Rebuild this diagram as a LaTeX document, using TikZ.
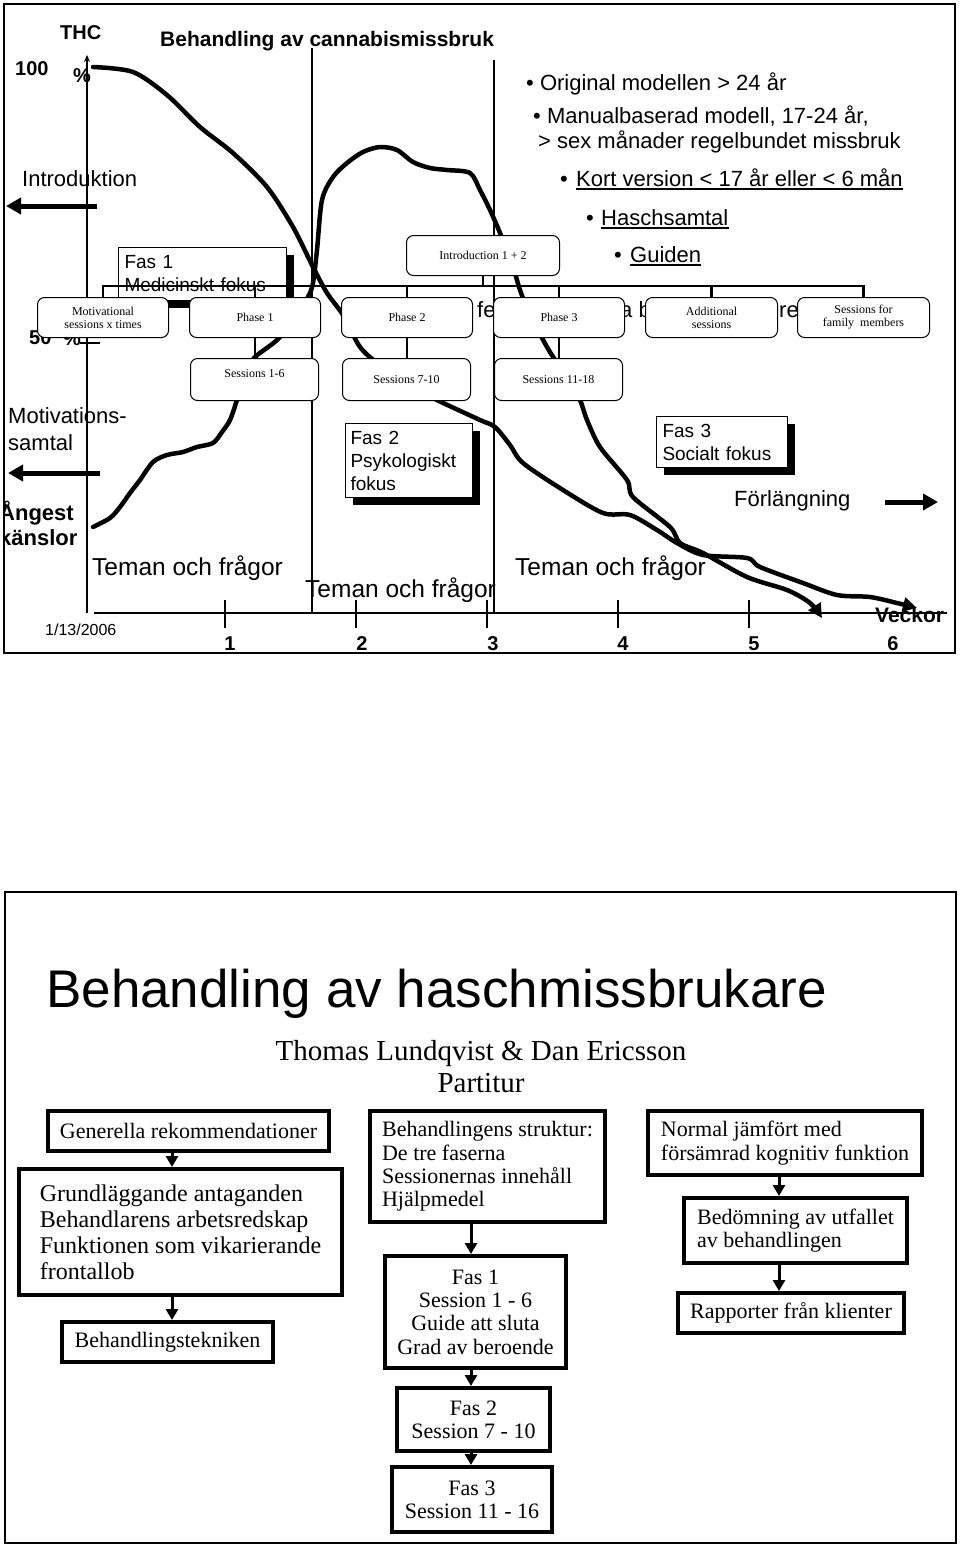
\documentclass[tikz,border=0pt]{standalone}
\usepackage{fontspec}
\setmainfont{Liberation Serif}
\newfontfamily\arial{Liberation Sans}
\usetikzlibrary{arrows.meta,shadows}
\newcommand\myfs[2]{\fontsize{#1}{#2}\selectfont}
\begin{document}
\begin{tikzpicture}[x=1pt,y=-1pt,
  panel/.style={draw, line width=2.5pt},
  thinln/.style={line width=1.2pt},
  lbl/.style={inner sep=0pt, anchor=base west, font=\arial\myfs{22}{26}},
  lblb/.style={inner sep=0pt, anchor=base west, font=\arial\bfseries\myfs{20}{24}},
  teman/.style={inner sep=0pt, anchor=base west, font=\arial\myfs{24.5}{28}},
  digit/.style={inner sep=0pt, anchor=base, font=\arial\bfseries\myfs{20}{24}},
  fasbox/.style={draw, line width=1pt, fill=white, anchor=north west, align=left,
    inner xsep=6pt, inner ysep=0pt, font=\arial\myfs{19}{23},
    drop shadow={shadow xshift=7pt, shadow yshift=-7pt, fill=black, opacity=1}},
  rbox/.style={draw, line width=1pt, rounded corners=7pt, fill=white, anchor=north west,
    minimum width=131pt, minimum height=40pt, inner sep=0pt, align=center, font=\myfs{12}{13}},
  sbox/.style={rbox, minimum width=128pt, minimum height=42pt},
  curve/.style={line width=4.5pt, line cap=round, line join=round, -{Triangle[length=14pt,width=14pt]}},
  fatarrow/.style={line width=5pt, -{Triangle[length=15pt,width=16pt]}},
  barline/.style={line width=2.5pt},
  bigbox/.style={draw, line width=4pt, fill=white, anchor=north west, align=left,
    inner sep=0pt, font=\myfs{22}{23.3}},
  flowarrow/.style={line width=3pt, -{Triangle[length=11pt,width=12pt]}}
]
\useasboundingbox (0,0) rectangle (960,1547);

% ================= upper panel =================
\draw[panel] (4,4) rectangle (955,653);

% axes and guide lines
\coordinate (axbot) at (87,613);
\coordinate (axtop) at (87,55);
\draw[thinln, -{Stealth[length=7pt,width=6pt]}] (axbot) -- (axtop);
\coordinate (xa0) at (94,613);
\coordinate (xa1) at (947,613);
\draw[thinln] (xa0) -- (xa1);
\coordinate (v1t) at (312,48); \coordinate (v1b) at (312,613);
\coordinate (v2t) at (494,60); \coordinate (v2b) at (494,613);
\draw[thinln] (v1t) -- (v1b);
\draw[thinln] (v2t) -- (v2b);
\foreach \tx [count=\i] in {225,356,487,618,749}{
  \coordinate (tk\i a) at (\tx,600);
  \coordinate (tk\i b) at (\tx,628);
  \draw[thinln] (tk\i a) -- (tk\i b);
}
\coordinate (t50a) at (80,343); \coordinate (t50b) at (100,343);
\draw[thinln] (t50a) -- (t50b);

% labels
\node[lblb] (thc) at (60,39) {THC};
\node[lblb] (hundred) at (15,75) {100};
\node[lblb] (pct1) at (73,82) {\%};
\node[lblb] (fifty) at (29,344) {50};
\node[lblb] (pct2) at (63,345) {\%};
\node[lblb, font=\arial\bfseries\myfs{21}{24}] (ttl) at (160,46) {Behandling av cannabismissbruk};
\node[lbl] (intro) at (22,186) {Introduktion};
\node[lbl] (mot1) at (8,423) {Motivations-};
\node[lbl] (mot2) at (8,450) {samtal};
\begin{scope}
  \clip (5,4) rectangle (955,653);
  \node[lbl, font=\arial\bfseries\myfs{22}{26}] (ang1) at (-1,520) {Ångest};
  \node[lbl, font=\arial\bfseries\myfs{22}{26}] (ang2) at (-1,545) {känslor};
\end{scope}
\node[teman] (tem1) at (92,575) {Teman och frågor};
\node[teman] (tem2) at (305,597) {Teman och frågor};
\node[teman] (tem3) at (515,575) {Teman och frågor};
\node[lbl] (forl) at (734,506) {Förlängning};
\node[lblb, font=\arial\bfseries\myfs{21}{24}] (veckor) at (875,622) {Veckor};
\node[lbl, font=\arial\myfs{16}{19}] (date) at (45,635) {1/13/2006};
\foreach \dx/\dl in {230/1,362/2,493/3,623/4,754/5,893/6}{
  \node[digit] (d\dl) at (\dx,650) {\dl};
}

% bullets
\node[lbl] (bl1) at (526,90) {• Original modellen > 24 år};
\node[lbl] (bl2) at (533,123) {• Manualbaserad modell, 17-24 år,};
\node[lbl] (bl3) at (538,148) {> sex månader regelbundet missbruk};
\node[lbl] (bb4) at (560,186) {•};
\node[lbl] (bl4) at (576,186) {Kort version < 17 år eller < 6 mån};
\node[lbl] (bb5) at (586,225) {•};
\node[lbl] (bl5) at (601,225) {Haschsamtal};
\node[lbl] (bb6) at (614,262) {•};
\node[lbl] (bl6) at (630,262) {Guiden};
\foreach \n in {bl4,bl5,bl6}{
  \draw[line width=1.3pt] ([yshift=-3pt]\n.base west) -- ([yshift=-3pt]\n.base east);
}

% arrows
\coordinate (ia0) at (97,206); \coordinate (ia1) at (6,206);
\draw[fatarrow] (ia0) -- (ia1);
\coordinate (ma0) at (100,473); \coordinate (ma1) at (8,473);
\draw[fatarrow] (ma0) -- (ma1);
\coordinate (fa0) at (885,502); \coordinate (fa1) at (938,502);
\draw[fatarrow] (fa0) -- (fa1);

% focus boxes with shadows
\node[fasbox, text width=156pt, minimum height=53pt] (fas1) at (118,247) {Fas 1\\Medicinskt fokus};
\node[fasbox, inner xsep=5pt, text width=117pt, minimum height=74pt] (fas2) at (345,423) {Fas 2\\Psykologiskt\\fokus};
\node[fasbox, text width=119pt, minimum height=51pt] (fas3) at (656,416) {Fas 3\\Socialt fokus};

% hidden text fragments
\node[lbl] (frag1) at (477,317) {fe};
\node[lbl] (frag2) at (620,317) {a b};
\node[lbl] (frag3) at (779,317) {re};

% curves
\draw[curve] plot[smooth] coordinates {(93,67) (133,72) (167,95) (200,127) (233,153) (267,187) (293,227) (313,267) (327,293) (343,315) (360,347) (380,365) (410,385) (437,400) (480,420) (495,427) (510,445) (523,463) (563,490) (603,513) (630,515) (657,530) (677,543) (703,555) (747,558) (760,567) (803,583) (837,595) (870,597) (897,603) (917,608)};
\draw[curve] plot[smooth] coordinates {(93,527) (110,518) (120,507) (130,493) (140,480) (153,462) (167,455) (183,452) (197,447) (213,443) (222,432) (230,420) (237,400) (245,375) (254,358) (277,340) (295,318) (308,297) (313,283) (317,250) (322,200) (333,177) (347,163) (363,152) (380,147) (397,150) (413,162) (430,168) (447,170) (470,173) (480,190) (490,210) (500,233) (513,267) (520,290) (530,315) (547,347) (555,360) (570,385) (580,400) (587,420) (600,447) (627,480) (633,497) (670,527) (680,543) (703,553) (747,577) (787,590) (810,603) (822,618)};

% org chart
\node[rbox, minimum width=153pt] (intr) at (406,235) {Introduction 1 + 2};
\node[rbox] (motb) at (37,297) {Motivational\\sessions x times};
\node[rbox] (ph1) at (189,297) {Phase 1};
\node[rbox] (ph2) at (341,297) {Phase 2};
\node[rbox] (ph3) at (493,297) {Phase 3};
\node[rbox, minimum width=132pt] (addb) at (645,297) {Additional\\sessions};
\node[rbox, minimum width=132pt] (famb) at (797,297) {Sessions for\\family~ members};
\node[sbox, text height=8pt, text depth=12pt] (s16) at (190,358) {Sessions 1-6};
\node[sbox] (s710) at (342,358) {Sessions 7-10};
\node[sbox] (s1118) at (494,358) {Sessions 11-18};

\coordinate (bar) at (0,286);
\draw[barline] (motb.north) -- (motb.north |- bar) -- (famb.north |- bar) -- (famb.north);
\foreach \b in {ph1,ph2,ph3,addb}{
  \draw[barline] (\b.north) -- (\b.north |- bar);
}
\draw[barline] (intr.south) -- (intr.south |- bar);
\draw[barline] (ph1.south) -- (s16.north -| ph1.south);
\draw[barline] (ph2.south) -- (s710.north -| ph2.south);
\draw[barline] (ph3.south) -- (s1118.north -| ph3.south);

% ================= lower panel =================
\draw[panel] (5,892) rectangle (956,1543);
\node[inner sep=0pt, anchor=base west, font=\arial\myfs{53}{58}] (bigtitle) at (46,1007) {Behandling av haschmissbrukare};
\node[inner sep=0pt, anchor=base, font=\myfs{29}{32}] (authors) at (481,1060) {Thomas Lundqvist \& Dan Ericsson};
\node[inner sep=0pt, anchor=base, font=\myfs{29}{32}] (partitur) at (481,1092) {Partitur};

\node[bigbox, align=center, minimum width=281pt, minimum height=40pt] (gen) at (46,1109) {Generella rekommendationer};
\node[bigbox, minimum width=323pt, minimum height=126pt, font=\myfs{24}{26}] (grund) at (17,1167) {Grundläggande antaganden\\Behandlarens arbetsredskap\\Funktionen som vikarierande\\frontallob};
\node[bigbox, align=center, minimum width=211pt, minimum height=40pt] (tek) at (60,1320) {Behandlingstekniken};

\node[bigbox, minimum width=235pt, minimum height=111pt] (strukt) at (368,1109) {Behandlingens struktur:\\De tre faserna\\Sessionernas innehåll\\Hjälpmedel};
\node[bigbox, align=center, minimum width=181pt, minimum height=112pt] (bf1) at (383,1254) {Fas 1\\Session 1 - 6\\Guide att sluta\\Grad av beroende};
\node[bigbox, align=center, minimum width=153pt, minimum height=63pt] (bf2) at (395,1386) {Fas 2\\Session 7 - 10};
\node[bigbox, align=center, minimum width=160pt, minimum height=65pt] (bf3) at (390,1465) {Fas 3\\Session 11 - 16};

\node[bigbox, minimum width=274pt, minimum height=64pt] (norm) at (646,1109) {Normal jämfört med\\försämrad kognitiv funktion};
\node[bigbox, minimum width=223pt, minimum height=65pt] (bedom) at (682,1196) {Bedömning av utfallet\\av behandlingen};
\node[bigbox, align=center, minimum width=226pt, minimum height=40pt] (rapp) at (676,1291) {Rapporter från klienter};

\coordinate (c1) at (172,0);
\coordinate (c2) at (471,0);
\coordinate (c3) at (779,0);
\draw[flowarrow] (gen.south -| c1) -- (grund.north -| c1);
\draw[flowarrow] (grund.south -| c1) -- (tek.north -| c1);
\draw[flowarrow] (strukt.south -| c2) -- (bf1.north -| c2);
\draw[flowarrow] (bf1.south -| c2) -- (bf2.north -| c2);
\draw[flowarrow] (bf2.south -| c2) -- (bf3.north -| c2);
\draw[flowarrow] (norm.south -| c3) -- (bedom.north -| c3);
\draw[flowarrow] (bedom.south -| c3) -- (rapp.north -| c3);
\end{tikzpicture}
\end{document}
